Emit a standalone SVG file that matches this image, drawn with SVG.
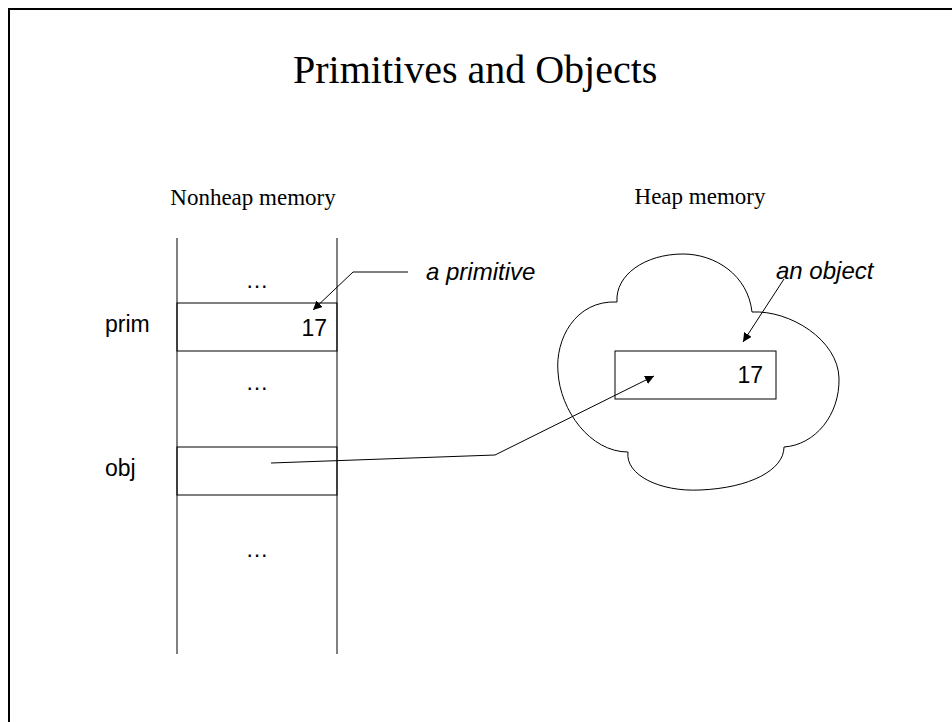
<svg xmlns="http://www.w3.org/2000/svg" width="952" height="722" viewBox="0 0 952 722">
<style>
.serif{font-family:"Liberation Serif","Times New Roman",serif;fill:#000}
.sans{font-family:"Liberation Sans",Arial,sans-serif;fill:#000}
.ln{fill:none;stroke:#000;stroke-width:1}
</style>
<defs>
<marker id="ah" viewBox="0 0 10 10" refX="10" refY="5" markerWidth="9" markerHeight="9" markerUnits="userSpaceOnUse" orient="auto">
<path d="M0,0 L10,5 L0,10 Z" fill="#000"/>
</marker>
</defs>
<rect width="952" height="722" fill="#fff"/>
<rect x="9" y="9" width="960" height="730" fill="none" stroke="#000" stroke-width="2"/>
<text class="serif" x="293" y="83" font-size="40">Primitives and Objects</text>
<g id="nonheap">
<text class="serif" x="253" y="205" font-size="23" text-anchor="middle">Nonheap memory</text>
<line class="ln" x1="177" y1="238" x2="177" y2="654"/>
<line class="ln" x1="337" y1="238" x2="337" y2="654"/>
<text class="sans" x="257" y="288" font-size="23" text-anchor="middle">…</text>
<text class="sans" x="257" y="390" font-size="23" text-anchor="middle">…</text>
<text class="sans" x="257" y="557" font-size="23" text-anchor="middle">…</text>
</g>
<g id="prim">
<rect class="ln" x="177" y="303" width="160" height="48"/>
<text class="sans" x="105" y="332" font-size="23">prim</text>
<text class="sans" x="327" y="336" font-size="23" text-anchor="end">17</text>
</g>
<g id="obj">
<rect class="ln" x="177" y="447" width="160" height="48"/>
<text class="sans" x="105" y="476" font-size="23">obj</text>
</g>
<g id="heap">
<text class="serif" x="700" y="204" font-size="23" text-anchor="middle">Heap memory</text>
<path class="ln" d="M617,302 C575,300 555,340 558,372 C560,410 590,452 628,452 C625,475 660,492 700,490 C750,488 784,470 784,447 C815,445 840,415 839,378 C838,340 790,310 752,312 C748,275 715,254 683,254 C645,254 615,275 617,302 Z"/>
</g>
<g id="object">
<rect class="ln" x="615" y="351" width="161" height="48"/>
<text class="sans" x="763" y="383" font-size="23" text-anchor="end">17</text>
</g>
<g id="label-primitive">
<text class="sans" x="426" y="280" font-size="24" font-style="italic">a primitive</text>
</g>
<g id="label-object">
<text class="sans" x="776" y="279" font-size="24" font-style="italic">an object</text>
</g>
<g id="connectors">
<polyline class="ln" points="408,272 353,272 313,310" marker-end="url(#ah)"/>
<polyline class="ln" points="271,463 495,455 654,376" marker-end="url(#ah)"/>
<line class="ln" x1="784" y1="279" x2="743" y2="342" marker-end="url(#ah)"/>
</g>
</svg>
